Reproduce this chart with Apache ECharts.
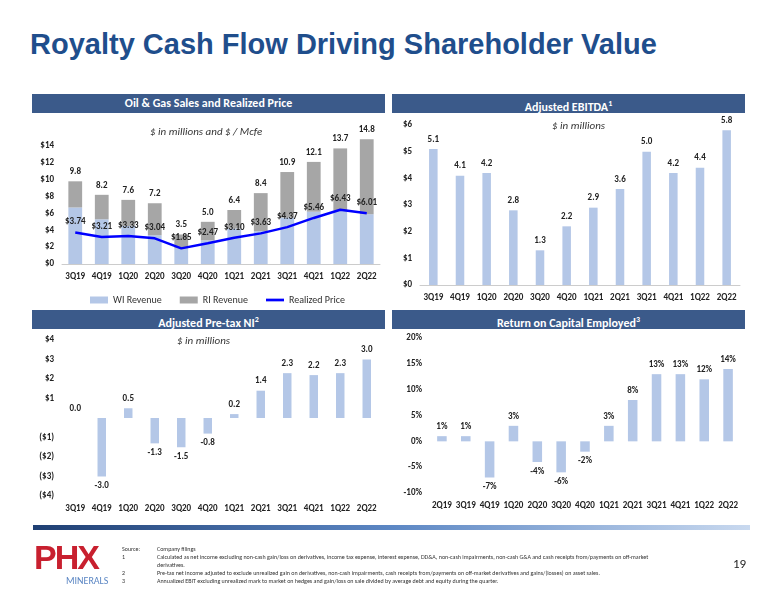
<!DOCTYPE html>
<html><head><meta charset="utf-8">
<script src="https://cdn.jsdelivr.net/npm/echarts@6/dist/echarts.min.js"></script>
<style>
body{margin:0;background:#fff;font-family:Calibri,"Liberation Sans",Arial,sans-serif;}
#wrap{position:relative;width:776px;height:600px;overflow:hidden}
#chart{position:absolute;left:0;top:0;width:776px;height:600px}
.t{position:absolute;white-space:nowrap}
.hdr{position:absolute;height:19px;background:#3B5A8A;color:#fff;font-weight:bold;font-size:12px;text-align:center;line-height:19px}
.fn{position:absolute;font-size:6px;color:#333;line-height:8px}
</style></head><body>
<div id="wrap">
<div class="t" style="left:30px;top:28px;font-size:29px;font-weight:bold;color:#1F4E8C;font-family:'Liberation Sans',Arial">Royalty Cash Flow Driving Shareholder Value</div>
<div class="hdr" style="left:32px;top:94px;width:353px">Oil &amp; Gas Sales and Realized Price</div>
<div class="hdr" style="left:392px;top:94px;width:353px">Adjusted EBITDA<sup style="font-size:8px">1</sup></div>
<div class="hdr" style="left:32px;top:310px;width:353px">Adjusted Pre-tax NI<sup style="font-size:8px">2</sup></div>
<div class="hdr" style="left:392px;top:310px;width:353px">Return on Capital Employed<sup style="font-size:8px">3</sup></div>
<div id="chart"></div>
<div style="position:absolute;left:33px;top:525px;width:717px;height:5px;background:linear-gradient(to right,#1F3F73,#5C87C4,#C9D9EF)"></div>
<div class="t" style="left:34px;top:538px;font-size:34px;font-weight:900;color:#C8202F;font-family:'Liberation Sans',Arial;letter-spacing:-2px">PHX</div>
<div class="t" style="left:66px;top:574px;font-size:10px;color:#5C87C4">MINERALS</div>
<div class="fn" style="left:122px;top:545px">Source:<br>1<br><br>2<br>3</div>
<div class="fn" style="left:157px;top:545px;width:520px;white-space:normal">Company filings<br>Calculated as net income excluding non-cash gain/loss on derivatives, income tax expense, interest expense, DD&amp;A, non-cash impairments, non-cash G&amp;A and cash receipts from/payments on off-market derivatives.<br>Pre-tax net income adjusted to exclude unrealized gain on derivatives, non-cash impairments, cash receipts from/payments on off-market derivatives and gains/(losses) on asset sales.<br>Annualized EBIT excluding unrealized mark to market on hedges and gain/loss on sale divided by average debt and equity during the quarter.</div>
<div class="t" style="left:733px;top:556px;font-size:13px;color:#222">19</div>
</div>
<script>
const cats12 = ['3Q19','4Q19','1Q20','2Q20','3Q20','4Q20','1Q21','2Q21','3Q21','4Q21','1Q22','2Q22'];
const cats13 = ['2Q19','3Q19','4Q19','1Q20','2Q20','3Q20','4Q20','1Q21','2Q21','3Q21','4Q21','1Q22','2Q22'];
const totalSales = [9.8,8.2,7.6,7.2,3.5,5.0,6.4,8.4,10.9,12.1,13.7,14.8];
const wiRevenue = [6.7,5.3,4.5,3.4,1.9,2.8,4.2,3.9,5.5,6.2,6.4,5.9];
const realizedPrice = [3.74,3.21,3.33,3.04,1.85,2.47,3.10,3.63,4.37,5.46,6.43,6.01];
const ebitda = [5.1,4.1,4.2,2.8,1.3,2.2,2.9,3.6,5.0,4.2,4.4,5.8];
const pretaxNI = [0.0,-3.0,0.5,-1.3,-1.5,-0.8,0.2,1.4,2.3,2.2,2.3,3.0];
const roce = [1,1,-7,3,-4,-6,-2,3,8,13,13,12,14];
const riRevenue = totalSales.map((t,i)=>+(t-wiRevenue[i]).toFixed(1));

const LB='#B4C7E7', GR='#A6A6A6', TX='#222';
const axLab={color:TX,fontSize:9,fontWeight:'bold'};
function xa(i,data){return {type:'category',gridIndex:i,data:data,axisTick:{show:false},axisLine:{lineStyle:{color:'#ccc'}},axisLabel:Object.assign({interval:0,margin:8},axLab)};}
const money=v=>v<0?'($'+(-v)+')':'$'+v;
const chart=echarts.init(document.getElementById('chart'));
chart.setOption({
 animation:false,
 textStyle:{fontFamily:'Calibri, Liberation Sans, Arial'},
 grid:[
  {left:62,right:396,top:129,height:135},
  {left:420,right:36,top:125,height:160},
  {left:62,right:396,top:340,height:156},
  {left:430,right:36,top:338,height:155}
 ],
 title:[
  {text:'$ in millions and $ / Mcfe',left:145,top:122,textStyle:{fontSize:11,fontStyle:'italic',fontWeight:'normal',color:'#333'}},
  {text:'$ in millions',left:547,top:116,textStyle:{fontSize:11,fontStyle:'italic',fontWeight:'normal',color:'#333'}},
  {text:'$ in millions',left:172,top:331,textStyle:{fontSize:11,fontStyle:'italic',fontWeight:'normal',color:'#333'}}
 ],
 legend:{data:[{name:'WI Revenue',icon:'rect'},{name:'RI Revenue',icon:'rect'},{name:'Realized Price',icon:'path://M0,0H20V3H0Z'}],left:85,top:290,itemWidth:18,itemHeight:7,itemGap:18,textStyle:{fontSize:10,color:'#333'}},
 xAxis:[xa(0,cats12),xa(1,cats12),Object.assign(xa(2,cats12),{axisLine:{onZero:false,show:false}}),Object.assign(xa(3,cats13),{axisLine:{onZero:false,show:false}})],
 yAxis:[
  {type:'value',gridIndex:0,min:0,max:16,interval:2,splitLine:{show:false},axisLabel:Object.assign({formatter:v=>v>14?'':'$'+v},axLab)},
  {type:'value',gridIndex:1,min:0,max:6,interval:1,splitLine:{show:false},axisLabel:Object.assign({formatter:v=>'$'+v},axLab)},
  {type:'value',gridIndex:2,min:-4,max:4,interval:1,splitLine:{show:false},axisLabel:Object.assign({formatter:v=>v===0?'':money(v)},axLab)},
  {type:'value',gridIndex:3,min:-10,max:20,interval:5,splitLine:{show:false},axisLabel:Object.assign({formatter:v=>v+'%'},axLab)}
 ],
 series:[
  {name:'WI Revenue',type:'bar',stack:'s',xAxisIndex:0,yAxisIndex:0,data:wiRevenue,itemStyle:{color:LB},barWidth:'52%'},
  {name:'RI Revenue',type:'bar',stack:'s',xAxisIndex:0,yAxisIndex:0,data:riRevenue,itemStyle:{color:GR},
   label:{show:true,position:'top',fontSize:9,fontWeight:'bold',color:TX,formatter:p=>totalSales[p.dataIndex].toFixed(1)}},
  {name:'Realized Price',type:'line',xAxisIndex:0,yAxisIndex:0,data:realizedPrice,symbol:'circle',symbolSize:0.1,showSymbol:true,lineStyle:{color:'#0000FF',width:2.5},itemStyle:{color:'#0000FF'},
   labelLayout:{hideOverlap:false},
   label:{show:true,position:'top',distance:6,fontSize:9,fontWeight:'bold',color:TX,formatter:p=>'$'+p.value.toFixed(2)}},
  {type:'bar',xAxisIndex:1,yAxisIndex:1,data:ebitda,itemStyle:{color:LB},barWidth:'32%',
   label:{show:true,position:'top',fontSize:9,fontWeight:'bold',color:TX,formatter:p=>p.value.toFixed(1)}},
  {type:'bar',xAxisIndex:2,yAxisIndex:2,itemStyle:{color:LB},barWidth:'32%',
   data:pretaxNI.map(v=>({value:v,label:{position:v<0?'bottom':'top'}})),
   label:{show:true,fontSize:9,fontWeight:'bold',color:TX,formatter:p=>p.value.toFixed(1)}},
  {type:'bar',xAxisIndex:3,yAxisIndex:3,itemStyle:{color:LB},barWidth:'40%',
   data:roce.map(v=>({value:v,label:{position:v<0?'bottom':'top'}})),
   label:{show:true,fontSize:9,fontWeight:'bold',color:TX,formatter:p=>p.value+'%'}}
 ]
});
</script>
</body></html>
